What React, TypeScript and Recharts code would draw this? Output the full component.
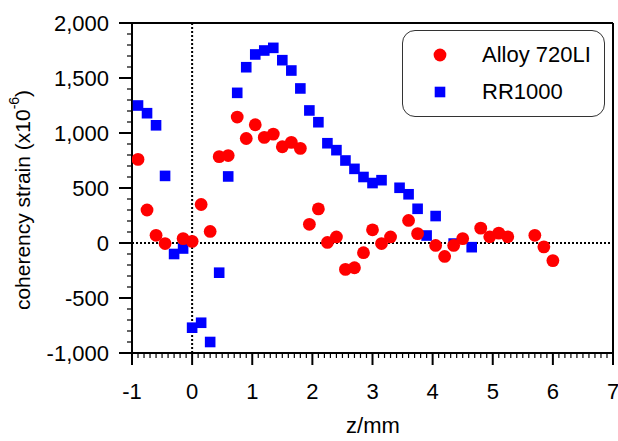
import React from 'react';
import {
  ScatterChart,
  Scatter,
  XAxis,
  YAxis,
  ReferenceLine,
  Legend,
  Label,
} from 'recharts';

// Alloy 720LI (red circles)
const alloyZ = [
  -0.9, -0.75, -0.6, -0.45, -0.15, 0, 0.15, 0.3, 0.45, 0.6, 0.75, 0.9, 1.05, 1.2, 1.35, 1.5, 1.65, 1.8,
  1.95, 2.1, 2.25, 2.4, 2.55, 2.7, 2.85, 3.0, 3.15, 3.3, 3.6, 3.75, 4.05, 4.2, 4.35, 4.5, 4.8, 4.95,
  5.1, 5.25, 5.7, 5.85, 6.0,
];
const alloyStrain = [
  760, 300, 70, -5, 40, 15, 350, 105, 785, 795, 1145, 950, 1075, 960, 990, 875, 915, 860,
  170, 310, 5, 55, -240, -225, -88, 120, -5, 55, 205, 85, -22, -122, -22, 40, 135, 56,
  90, 56, 70, -35, -160,
];

// RR1000 (blue squares)
const rrZ = [
  -0.9, -0.75, -0.6, -0.45, -0.3, -0.15, 0, 0.15, 0.3, 0.45, 0.6, 0.75, 0.9, 1.05, 1.2, 1.35, 1.5, 1.65,
  1.8, 1.95, 2.1, 2.25, 2.4, 2.55, 2.7, 2.85, 3.0, 3.15, 3.45, 3.6, 3.75, 3.9, 4.05, 4.35, 4.65,
];
const rrStrain = [
  1250, 1180, 1070, 610, -100, -50, -770, -725, -900, -270, 605, 1365, 1598, 1714, 1750, 1774, 1662, 1568,
  1405, 1205, 1098, 907, 844, 750, 674, 600, 545, 571, 502, 443, 311, 68, 245, -5, -38,
];

const legendOrder = ['Alloy 720LI', 'RR1000'];
const xMajor = [-1, 0, 1, 2, 3, 4, 5, 6, 7];
const yMajor = [-1000, -500, 0, 500, 1000, 1500, 2000];

const xTicks = Array.from({ length: 81 }, (_, i) => Math.round((-1 + i * 0.1) * 10) / 10);
const yTicks = Array.from({ length: 31 }, (_, i) => -1000 + i * 100);

const alloyData = alloyZ.map((z, i) => ({ z, strain: alloyStrain[i] }));
const rrData = rrZ.map((z, i) => ({ z, strain: rrStrain[i] }));

const RED = '#ff0000';
const BLUE = '#0000ff';
const FONT = '"Liberation Sans", Arial, sans-serif';

function XTick({ x, y, payload }: any) {
  const major = xMajor.includes(payload.value);
  return (
    <g>
      <line x1={x} x2={x} y1={y} y2={y + (major ? 12 : 5)} stroke="#000" strokeWidth={major ? 2 : 1.2} />
      {major && (
        <text x={x} y={y + 46} textAnchor="middle" fontSize={22} fontFamily={FONT} fill="#000">
          {payload.value}
        </text>
      )}
    </g>
  );
}

function YTick({ x, y, payload }: any) {
  const major = yMajor.includes(payload.value);
  return (
    <g>
      <line x1={x - (major ? 13 : 5)} x2={x} y1={y} y2={y} stroke="#000" strokeWidth={major ? 2 : 1.2} />
      {major && (
        <text x={x - 23} y={y + 8} textAnchor="end" fontSize={22} fontFamily={FONT} fill="#000">
          {payload.value.toLocaleString('en-US')}
        </text>
      )}
    </g>
  );
}

const circle = (props: any) => <circle cx={props.cx} cy={props.cy} r={6.4} fill={RED} />;
const square = (props: any) => (
  <rect x={props.cx - 5.3} y={props.cy - 5.3} width={10.6} height={10.6} fill={BLUE} />
);

function LegendBox({ payload }: any) {
  const items = [...(payload || [])].sort(
    (a: any, b: any) => legendOrder.indexOf(a.value) - legendOrder.indexOf(b.value)
  );
  return (
    <div
      style={{
        position: 'relative',
        width: 203,
        height: 87,
        boxSizing: 'border-box',
        border: '1.5px solid #333',
        borderRadius: 13,
        background: '#fff',
        fontFamily: FONT,
        fontSize: 22,
      }}
    >
      {items.map((item: any, i: number) => (
        <div key={item.value} style={{ position: 'absolute', left: 0, top: 24 + i * 37 - 13, height: 26, width: '100%' }}>
          <svg width={20} height={20} style={{ position: 'absolute', left: 27, top: 3 }}>
            {item.value === 'RR1000' ? (
              <rect x={4.7} y={4.7} width={10.6} height={10.6} fill={BLUE} />
            ) : (
              <circle cx={10} cy={10} r={6.4} fill={RED} />
            )}
          </svg>
          <span style={{ position: 'absolute', left: 79, top: 0, lineHeight: '26px', color: '#000' }}>{item.value}</span>
        </div>
      ))}
    </div>
  );
}

export default function App() {
  return (
    <div style={{ position: 'absolute', left: 0, top: 0, background: '#fff' }}>
      <ScatterChart width={618} height={441} margin={{ top: 23, right: 5, bottom: 0, left: 0 }}>
        <XAxis
          type="number"
          dataKey="z"
          domain={[-1, 7]}
          ticks={xTicks}
          interval={0}
          height={88}
          tickSize={0}
          tickMargin={0}
          tickLine={false}
          axisLine={{ stroke: '#000', strokeWidth: 2 }}
          tick={<XTick />}
          allowDataOverflow
        >
          <Label
            content={() => (
              <text x={373} y={433} textAnchor="middle" fontSize={22} fontFamily={FONT} fill="#000">
                z/mm
              </text>
            )}
          />
        </XAxis>
        <YAxis
          type="number"
          dataKey="strain"
          domain={[-1000, 2000]}
          ticks={yTicks}
          interval={0}
          width={132}
          tickSize={0}
          tickMargin={0}
          tickLine={false}
          axisLine={{ stroke: '#000', strokeWidth: 2 }}
          tick={<YTick />}
          allowDataOverflow
        >
          <Label
            content={() => (
              <text
                transform="translate(22,200) rotate(-90)"
                x={0}
                y={0}
                textAnchor="middle"
                dominantBaseline="central"
                fontSize={21}
                fontFamily={FONT}
                fill="#000"
              >
                coherency strain (x10
                <tspan fontSize={14} dy={-8}>-6</tspan>
                <tspan dy={8}>)</tspan>
              </text>
            )}
          />
        </YAxis>
        <ReferenceLine y={2000} stroke="#000" strokeWidth={2} />
        <ReferenceLine x={7} stroke="#000" strokeWidth={2} />
        <ReferenceLine x={0} stroke="#000" strokeWidth={2} strokeDasharray="2 2" />
        <ReferenceLine y={0} stroke="#000" strokeWidth={2} strokeDasharray="2 2" />
        <Scatter name="RR1000" data={rrData} fill={BLUE} shape={square} isAnimationActive={false} />
        <Scatter name="Alloy 720LI" data={alloyData} fill={RED} shape={circle} isAnimationActive={false} />
        <Legend
          layout="horizontal"
          verticalAlign="middle"
          align="center"
          content={<LegendBox />}
          wrapperStyle={{ left: 402, top: 30, width: 203, height: 87 }}
        />
      </ScatterChart>
    </div>
  );
}
